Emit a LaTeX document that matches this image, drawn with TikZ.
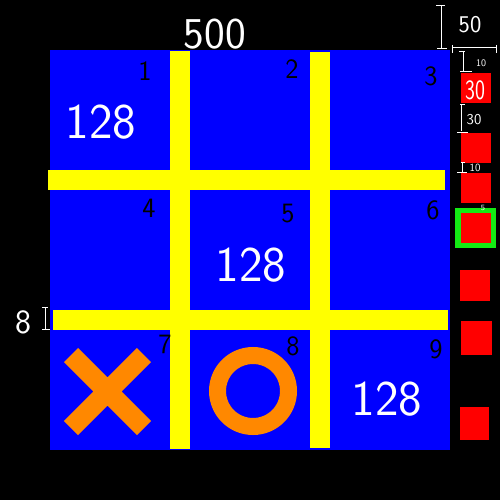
\documentclass[tikz,border=0pt]{standalone}
\definecolor{myblue}{RGB}{0,0,255}
\definecolor{myyellow}{RGB}{255,255,0}
\definecolor{myred}{RGB}{255,0,0}
\definecolor{myorange}{RGB}{255,136,0}
\definecolor{mygreen}{RGB}{20,235,20}
\begin{document}
\begin{tikzpicture}[x=1pt,y=-1pt,
  hand/.style={text=white,inner sep=0pt},
  big/.style={hand,font=\sffamily\fontsize{50}{50}\selectfont},
  cellnum/.style={text=black,inner sep=0pt,font=\sffamily\fontsize{28}{28}\selectfont},
  bar/.style={fill=myyellow},
  redsq/.style={fill=myred},
  dim/.style={draw=white,line width=1pt}]
\useasboundingbox (0,0) rectangle (500,500);
\fill[black] (0,0) rectangle (500,500);
% board
\fill[myblue] (50,50) rectangle (450,450);
\fill[bar] (170,51) rectangle (190,449);
\fill[bar] (310,52) rectangle (330,448);
\fill[bar] (48,170) rectangle (445,190);
\fill[bar] (53,310) rectangle (448,330);
% X and O
\draw[myorange,line width=20pt] (71,355) -- (144,428) (144,355) -- (71,428);
\draw[myorange,line width=17pt] (253,391) circle[radius=35.5];
% red squares
\fill[redsq] (461,73) rectangle (491,103);
\fill[redsq] (461,133) rectangle (491,163);
\fill[redsq] (461,173) rectangle (491,203);
\fill[mygreen] (455,208) rectangle (496,248);
\fill[redsq] (461,213) rectangle (491,243);
\fill[redsq] (460,270) rectangle (490,301);
\fill[redsq] (461,321) rectangle (492,355);
\fill[redsq] (460,407) rectangle (489,440);
% cell numbers
\node[cellnum] (n1) at (145,71) {1};
\node[cellnum] (n2) at (292,69) {2};
\node[cellnum] (n3) at (431,76) {3};
\node[cellnum] (n4) at (149,208) {4};
\node[cellnum] (n5) at (288,214) {5};
\node[cellnum] (n6) at (433,210) {6};
\node[cellnum] (n7) at (165,344) {7};
\node[cellnum] (n8) at (293,346) {8};
\node[cellnum] (n9) at (436,349) {9};
% 128 labels
\node[big] (v1) at (101,122) {128};
\node[big] (v5) at (251,265) {128};
\node[big] (v9) at (387,399) {128};
% annotations
\node[hand,font=\sffamily\fontsize{44}{44}\selectfont] (w500) at (215,34) {500};
\node[hand,font=\sffamily\fontsize{24}{24}\selectfont] (w50) at (470,25) {50};
\node[hand,font=\sffamily\fontsize{34}{34}\selectfont] (w8) at (23,322) {8};
\node[hand,font=\sffamily\fontsize{28}{28}\selectfont] (w30a) at (475,90) {\scalebox{0.75}[1]{30}};
\node[hand,font=\sffamily\fontsize{10}{10}\selectfont] (w10a) at (481,63) {10};
\node[hand,font=\sffamily\fontsize{15}{15}\selectfont] (w30b) at (474,120) {30};
\node[hand,font=\sffamily\fontsize{11}{11}\selectfont] (w10b) at (475,168) {10};
\node[hand,font=\sffamily\fontsize{8}{8}\selectfont] (w5) at (483,208) {5};
% dimension brackets
\draw[dim] (436,5.5) -- (445,5.5) (441,5.5) -- (441,48) (437,49) -- (447,49);
\draw[dim] (452.5,48) -- (496.5,48) (452.5,45) -- (452.5,53) (496.5,45) -- (496.5,53);
\draw[dim] (459,52) -- (465,52) (463,52) -- (463,72) (460,72) -- (472,72);
\draw[dim] (460,105) -- (465,105) (461,105) -- (461,131) (457,132) -- (468,132);
\draw[dim] (461,162) -- (465,162) (462,162) -- (462,172) (457,172) -- (467,172);
\draw[dim] (42,307) -- (48,307) (45,307) -- (45,329) (42,329) -- (50,329);
\end{tikzpicture}
\end{document}
